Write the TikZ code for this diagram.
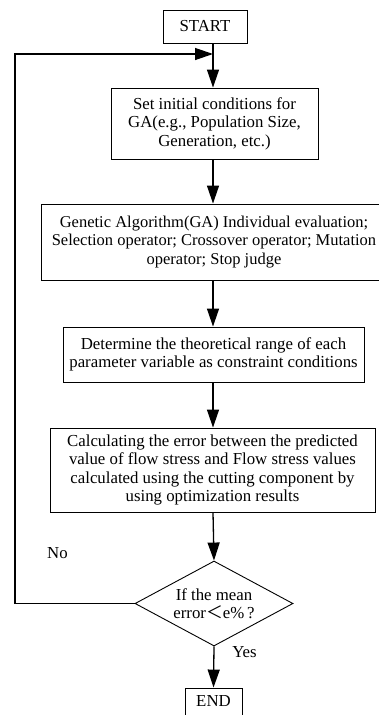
\documentclass[tikz,border=0pt]{standalone}
\usepackage{fontspec}
\setmainfont{Liberation Serif}
\newfontfamily\cjk{Noto Sans CJK SC}
\usetikzlibrary{arrows.meta,shapes.geometric}
\begin{document}
\begin{tikzpicture}[x=1pt,y=-1pt,
  txt/.style={font=\fontsize{16.8}{18.5}\selectfont},
  box/.style={draw,line width=0.9pt,inner sep=0pt,align=center,txt},
  arr/.style={line width=1.3pt,-{Triangle[length=18pt,width=12pt]}},
  lbl/.style={txt,inner sep=0pt}]
\useasboundingbox (0,0) rectangle (379,715);
\node[box,minimum width=84pt,minimum height=33pt] (start) at (205,26.5) {START};
\node[box,minimum width=207pt,minimum height=71pt] (b1) at (214.5,123.5) {Set initial conditions for\\GA(e.g., Population Size,\\Generation, etc.)};
\node[box,minimum width=346pt,minimum height=76pt,font=\fontsize{16.5}{18.5}\selectfont] (b2) at (214,242) {Genetic Algorithm(GA) Individual evaluation;\\Selection operator; Crossover operator; Mutation\\operator; Stop judge};
\node[box,minimum width=301pt,minimum height=55pt] (b3) at (213.5,354.5) {Determine the theoretical range of each\\parameter variable as constraint conditions};
\node[box,minimum width=325pt,minimum height=84pt] (b4) at (212.5,470) {Calculating the error between the predicted\\value of flow stress and Flow stress values\\calculated using the cutting component by\\using optimization results};
\node[diamond,draw,line width=0.9pt,aspect=1.86,minimum width=158pt,minimum height=85pt,inner sep=0pt,align=center,txt] (d) at (214,603.5) {If the mean\\error{\cjk ＜}e\%\,?};
\node[box,minimum width=57pt,minimum height=27pt] (end) at (213.5,701.5) {END};
\node[lbl] (no) at (57.5,553) {No};
\node[lbl] (yes) at (244.5,652) {Yes};
\coordinate (spine) at (213,0);
\coordinate (lc) at (15,603.5);
\coordinate (ltop) at (15,54);
\coordinate (join) at (213,54);
\draw[arr] (spine |- start.south) -- (spine |- b1.north);
\draw[arr] (spine |- b1.south) -- (spine |- b2.north);
\draw[arr] (spine |- b2.south) -- (spine |- b3.north);
\draw[arr] (spine |- b3.south) -- (spine |- b4.north);
\draw[arr] (spine |- b4.south) -- (d.north);
\draw[arr] (d.south) -- (end.north);
\draw[arr] (d.west) -- (lc) -- (ltop) -- (join);
\end{tikzpicture}
\end{document}
